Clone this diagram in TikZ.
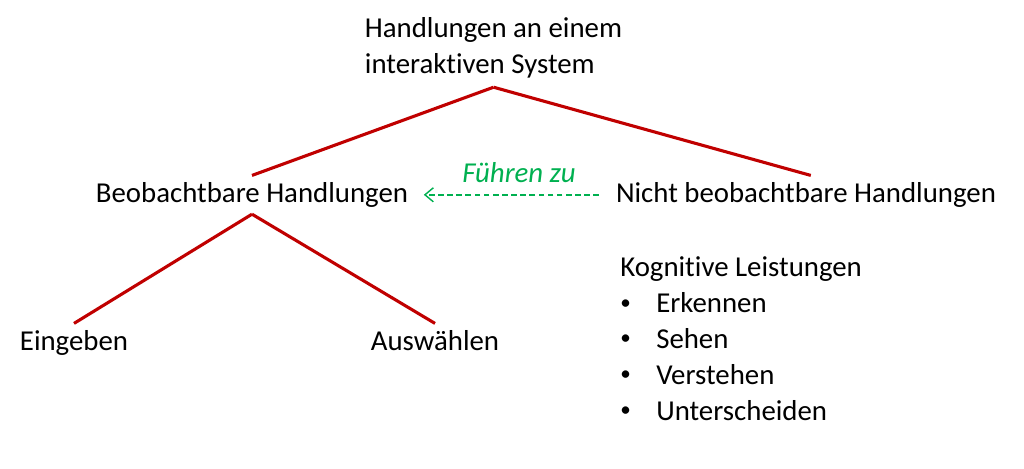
\documentclass[tikz,border=0pt]{standalone}
\usepackage{fontspec}
\setmainfont{Carlito}[Ligatures=NoCommon]
\usepackage{xcolor}
\usepackage{tikz}
\usetikzlibrary{arrows.meta}
\definecolor{branchred}{RGB}{192,0,0}
\definecolor{leadgreen}{RGB}{0,176,80}
\newcommand{\listbullet}{\makebox[0.9cm][l]{\raisebox{0.13em}{\fontsize{15}{15}\selectfont\textbullet}}}

\begin{document}
\begin{tikzpicture}[
    every node/.style={font=\fontsize{20.5}{25.5}\selectfont},
    word/.style={text height=15.4pt, text depth=5.1pt},
    branch/.style={branchred, line width=2.2pt},
    leadsto/.style={leadgreen, line width=1pt, dash pattern=on 4pt off 2.5pt, shorten >=0.27cm, shorten <=0.3cm, -{Straight Barb[length=6pt, width=10pt]}}
]
    \useasboundingbox (0, 0) rectangle (25.6, -11.725);
    \node[anchor=west, align=left] (system) at (9.0, -1.2) {Handlungen an einem\\interaktiven System};
    \node[word] (beob) at (6.3, -4.87) {Beobachtbare Handlungen};
    \node[word] (nichtbeob) at (20.15, -4.87) {Nicht beobachtbare Handlungen};
    \node[leadgreen, font=\fontsize{20.5}{25.5}\selectfont\itshape] (fuehren) at (12.975, -4.325) {Führen zu};
    \node[word] (eingeben) at (1.85, -8.57) {Eingeben};
    \node[word] (auswaehlen) at (10.875, -8.57) {Auswählen};
    \node[anchor=north west, align=left, inner sep=0] (kognitiv) at (15.5, -6.42) {Kognitive Leistungen\\
        \listbullet Erkennen\\
        \listbullet Sehen\\
        \listbullet Verstehen\\
        \listbullet Unterscheiden};
    \draw[branch] ([yshift=-0.1cm]system.south) -- (beob.north);
    \draw[branch] ([yshift=-0.1cm]system.south) -- ([xshift=0.12cm]nichtbeob.north);
    \draw[branch] (beob.south) -- (eingeben.north);
    \draw[branch] (beob.south) -- (auswaehlen.north);
    \draw[leadsto] (nichtbeob.west) -- (beob.east);
\end{tikzpicture}
\end{document}
